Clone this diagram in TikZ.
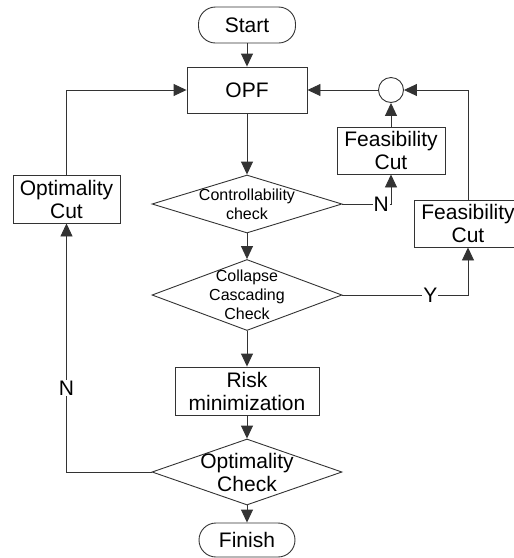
\documentclass[tikz,border=0pt]{standalone}
\usepackage{fontspec}
\setmainfont{Liberation Sans}
\usetikzlibrary{shapes.geometric,arrows.meta}
\begin{document}
\begin{tikzpicture}[x=1pt,y=-1pt,
  every node/.style={font=\fontsize{21}{23}\selectfont, text=black},
  ln/.style={draw=black!80, line width=0.9pt},
  arr/.style={ln, -{Triangle[length=13pt,width=12pt]}},
  procbox/.style={ln, rectangle, inner sep=0pt, align=center},
  termbox/.style={ln, rectangle, rounded corners=17pt, inner sep=0pt},
  decide/.style={ln, diamond, inner sep=0pt},
  smalltext/.style={font=\fontsize{16}{19}\selectfont, align=center},
  lbl/.style={fill=white, inner sep=1pt}]
\useasboundingbox (0,0) rectangle (514,558);
\clip (0,0) rectangle (514,558);

% main column
\node[termbox, minimum width=97pt, minimum height=36pt] (start) at (247,25) {Start};
\node[procbox, minimum width=120pt, minimum height=46pt] (opf) at (247,90) {OPF};
\node[decide, minimum width=190pt, minimum height=58pt] (ctrl) at (247,204) {};
\node[smalltext] at (ctrl) {Controllability\\check};
\node[decide, minimum width=190pt, minimum height=71pt] (coll) at (247,295) {};
\node[smalltext] at (coll) {Collapse\\Cascading\\Check};
\node[procbox, minimum width=144pt, minimum height=48pt] (risk) at (247,391) {Risk\\minimization};
\node[decide, minimum width=190pt, minimum height=66pt] (optc) at (247,472) {};
\node[align=center] at (optc) {Optimality\\Check};
\node[termbox, minimum width=96pt, minimum height=34pt] (finish) at (247,540) {Finish};

% side boxes
\node[procbox, minimum width=107pt, minimum height=48pt] (optcut) at (66.5,199) {Optimality\\Cut};
\node[procbox, minimum width=108pt, minimum height=47pt] (feasA) at (391,150.5) {Feasibility\\Cut};
\node[procbox, minimum width=108pt, minimum height=47pt] (feasB) at (468,223.5) {Feasibility\\Cut};
\node[ln, circle, minimum size=25pt, inner sep=0pt] (sum) at (391,90) {};

% main flow
\draw[arr] (start) -- (opf);
\draw[arr] (opf) -- (ctrl);
\draw[arr] (ctrl) -- (coll);
\draw[arr] (coll) -- (risk);
\draw[arr] (risk) -- (optc);
\draw[arr] (optc) -- (finish);

% feasibility feedback
\draw[arr] (ctrl.east) -- node[lbl, pos=0.8] {N} (ctrl.east -| feasA.south) -- (feasA.south);
\draw[arr] (coll.east) -- node[lbl, pos=0.7] {Y} (coll.east -| feasB.south) -- (feasB.south);
\draw[arr] (feasA) -- (sum);
\draw[arr] (feasB.north) -- (feasB.north |- sum.east) -- (sum.east);
\draw[arr] (sum) -- (opf);

% optimality feedback
\draw[arr] (optc.west) -- (optc.west -| optcut.south) -- node[lbl, pos=0.337] {N} (optcut.south);
\draw[arr] (optcut.north) -- (optcut.north |- opf.west) -- (opf.west);
\end{tikzpicture}
\end{document}
